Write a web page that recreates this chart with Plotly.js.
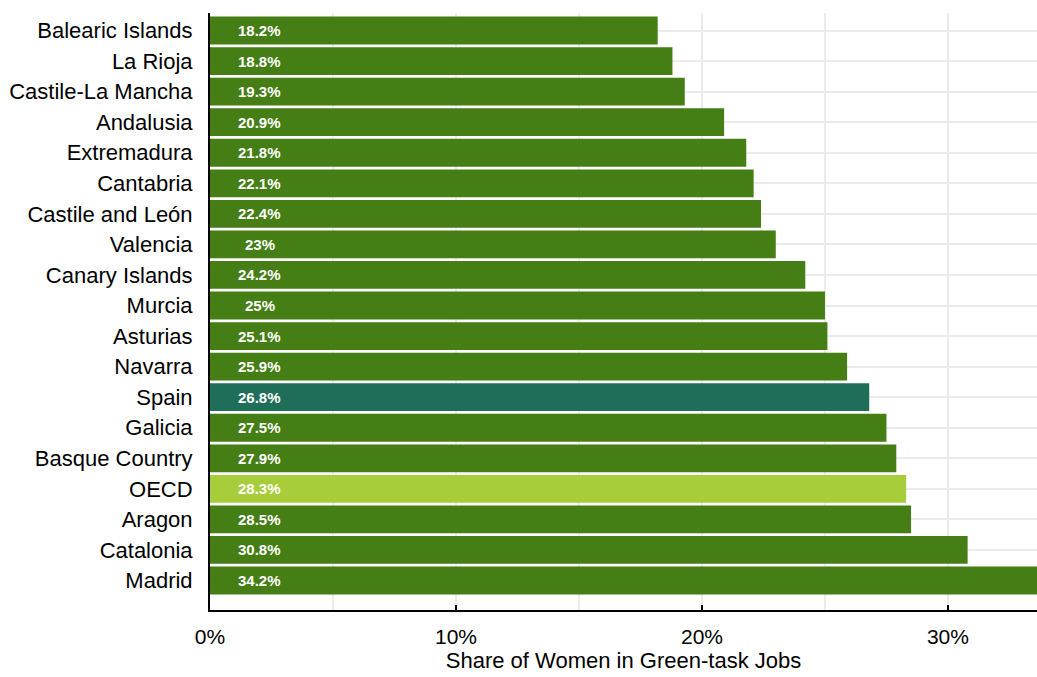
<!DOCTYPE html>
<html>
<head>
<meta charset="utf-8">
<script src="https://cdn.plot.ly/plotly-3.0.1.min.js"></script>
<style>html,body{margin:0;padding:0;background:#fff;}#chart{width:1037px;height:677px;}</style>
</head>
<body>
<div id="chart"></div>
<script>
const regions = ["Balearic Islands","La Rioja","Castile-La Mancha","Andalusia","Extremadura","Cantabria","Castile and León","Valencia","Canary Islands","Murcia","Asturias","Navarra","Spain","Galicia","Basque Country","OECD","Aragon","Catalonia","Madrid"];
const shares = [18.2,18.8,19.3,20.9,21.8,22.1,22.4,23,24.2,25,25.1,25.9,26.8,27.5,27.9,28.3,28.5,30.8,34.2];
const labels = shares.map(v => v + "%");
const xTickVals = [0,10,20,30];
const xTickText = ["0%","10%","20%","30%"];

const baseColor = "#457E14";
const spainColor = "#1F6E5A";
const oecdColor = "#A8CD3A";
const colors = regions.map(r => r === "Spain" ? spainColor : (r === "OECD" ? oecdColor : baseColor));

const regular = "Liberation Sans, Arial, sans-serif";

const trace = {
  type: "bar",
  orientation: "h",
  x: shares,
  y: regions,
  marker: {color: colors},
  hoverinfo: "none"
};

const annotations = regions.map((r, i) => ({
  x: 2.03, y: r, xref: "x", yref: "y",
  text: "<b>" + labels[i] + "</b>",
  showarrow: false,
  font: {family: regular, size: 15, color: "#ffffff"},
  xanchor: "center", yanchor: "middle"
}));

const layout = {
  width: 1037, height: 677,
  margin: {l: 210, r: 0, t: 13, b: 67},
  paper_bgcolor: "#ffffff",
  plot_bgcolor: "#ffffff",
  bargap: 0.09,
  showlegend: false,
  font: {family: regular, size: 20, color: "#000"},
  xaxis: {
    range: [0, 33.62],
    tickvals: xTickVals,
    ticktext: xTickText,
    ticks: "inside", ticklen: 5, tickwidth: 2, tickcolor: "#000",
    ticklabelstandoff: 7,
    showgrid: true, gridcolor: "#EBEBEB", gridwidth: 2,
    minor: {dtick: 5, tick0: 0, showgrid: true, gridcolor: "#EBEBEB", gridwidth: 2, ticks: ""},
    showline: true, linecolor: "#000", linewidth: 2,
    zeroline: false,
    tickfont: {family: regular, size: 21},
    title: {text: "Share of Women in Green-task Jobs", font: {family: regular, size: 22}, standoff: 4},
    automargin: false,
    fixedrange: true
  },
  yaxis: {
    type: "category",
    categoryorder: "array",
    categoryarray: regions,
    range: [18.965, -0.573],
    showgrid: true, gridcolor: "#EBEBEB", gridwidth: 2,
    ticks: "outside", ticklen: 11, tickcolor: "rgba(0,0,0,0)",
    showline: true, linecolor: "#000", linewidth: 2,
    zeroline: false,
    tickfont: {family: regular, size: 22},
    automargin: false,
    fixedrange: true
  },
  annotations: annotations
};

Plotly.newPlot("chart", [trace], layout, {displayModeBar: false, staticPlot: true});
</script>
</body>
</html>
